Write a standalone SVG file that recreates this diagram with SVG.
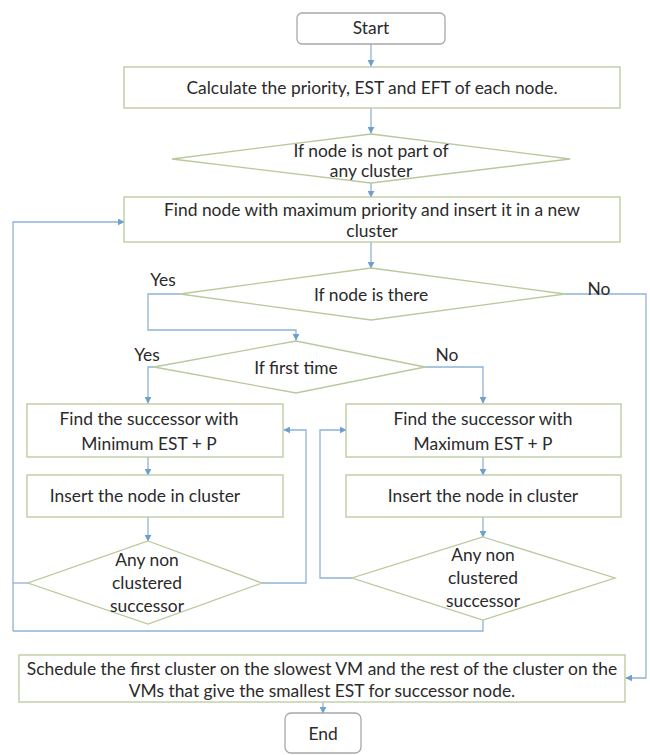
<svg xmlns="http://www.w3.org/2000/svg" width="650" height="755" viewBox="0 0 650 755">
<defs>
<marker id="ah" viewBox="0 0 10 10" refX="9" refY="5" markerWidth="7" markerHeight="7" markerUnits="userSpaceOnUse" orient="auto"><path d="M0,0 L10,5 L0,10 z" fill="#6f9fcf"/></marker>
<style>
.box{fill:#ffffff;stroke:#b8c99c;stroke-width:1.3}
.term{fill:#ffffff;stroke:#a8a8a8;stroke-width:1.3}
.dia{fill:#ffffff;stroke:#b8c99c;stroke-width:1.3}
.c{fill:none;stroke:#8fb2d6;stroke-width:1.3}
.a{marker-end:url(#ah)}
text{font-family:Lato,"Liberation Sans",sans-serif;font-size:17.4px;fill:#2a2a2a;text-anchor:middle}
</style>
</defs>
<rect width="650" height="755" fill="#ffffff"/>
<g id="connectors">
<path class="c a" d="M371,44 V66"/>
<path class="c a" d="M371,108 V133"/>
<path class="c a" d="M371,183 V197"/>
<path class="c a" d="M371,242 V268"/>
<path class="c a" d="M180,294 H148 V330 H296 V340"/>
<path class="c a" d="M565,294 H646 V678 H626"/>
<path class="c a" d="M154,367 H148 V403"/>
<path class="c a" d="M425,367 H483 V403"/>
<path class="c a" d="M148,457 V475"/>
<path class="c a" d="M483,457 V475"/>
<path class="c a" d="M148,517 V541"/>
<path class="c a" d="M483,517 V537"/>
<path class="c a" d="M262,583 H306 V430 H284"/>
<path class="c a" d="M352,578 H320 V430 H346"/>
<path class="c" d="M28,583 H13"/>
<path class="c" d="M483,620 V631 H13"/>
<path class="c a" d="M13,631 V222 H124"/>
<path class="c a" d="M323,702 V713"/>
</g>
<g id="start"><rect class="term" x="297" y="13" width="148" height="31" rx="5"/><text x="371" y="34">Start</text></g>
<g id="calc"><rect class="box" x="124" y="67" width="496" height="41"/><text x="372" y="94">Calculate the priority, EST and EFT of each node.</text></g>
<g id="notpart"><polygon class="dia" points="371,134 570,159 371,183 172,159"/><text x="371" y="157">If node is not part of</text><text x="371" y="177">any cluster</text></g>
<g id="findmax"><rect class="box" x="124" y="197" width="496" height="45"/><text x="372" y="216">Find node with maximum priority and insert it in a new</text><text x="372" y="237">cluster</text></g>
<g id="there"><polygon class="dia" points="371,268 565,294 371,320 180,294"/><text x="371" y="301">If node is there</text><text x="163" y="286">Yes</text><text x="599" y="295">No</text></g>
<g id="first"><polygon class="dia" points="296,341 425,367 296,393 154,367"/><text x="296" y="374">If first time</text><text x="147" y="361">Yes</text><text x="447" y="361">No</text></g>
<g id="minsucc"><rect class="box" x="27" y="404" width="256" height="53"/><text x="149" y="425">Find the successor with</text><text x="149" y="450">Minimum EST + P</text></g>
<g id="maxsucc"><rect class="box" x="346" y="404" width="275" height="53"/><text x="483" y="425">Find the successor with</text><text x="483" y="450">Maximum EST + P</text></g>
<g id="insleft"><rect class="box" x="27" y="475" width="256" height="42"/><text x="145" y="502">Insert the node in cluster</text></g>
<g id="insright"><rect class="box" x="346" y="475" width="275" height="42"/><text x="483" y="502">Insert the node in cluster</text></g>
<g id="anyleft"><polygon class="dia" points="148,541 262,583 148,624 28,583"/><text x="147" y="566">Any non</text><text x="147" y="589">clustered</text><text x="147" y="612">successor</text></g>
<g id="anyright"><polygon class="dia" points="483,537 615,578 483,620 352,578"/><text x="483" y="561">Any non</text><text x="483" y="584">clustered</text><text x="483" y="607">successor</text></g>
<g id="schedule"><rect class="box" x="19" y="655" width="606" height="47"/><text x="322" y="675">Schedule the first cluster on the slowest VM and the rest of the cluster on the</text><text x="322" y="697">VMs that give the smallest EST for successor node.</text></g>
<g id="end"><rect class="term" x="285" y="713" width="76" height="40" rx="6"/><text x="323" y="740">End</text></g>
</svg>
